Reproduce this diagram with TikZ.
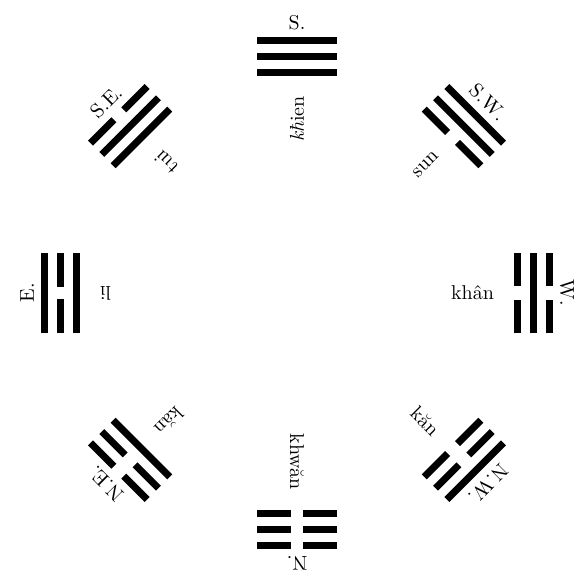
\documentclass[tikz,border=0pt]{standalone}
\begin{document}
\begin{tikzpicture}[x=0.5pt,y=0.5pt,
  yao/.style={line width=3.5pt},
  quarter/.style={transform shape},
  gua/.style={transform shape,rotate=90,anchor=east}]
\useasboundingbox (-297,-285) rectangle (281,293);

% S -- khien
\begin{scope}[shift={(90:236)},rotate=0]
\draw[yao] (-40,16) -- (40,16);
\draw[yao] (-40,0) -- (40,0);
\draw[yao] (-40,-16) -- (40,-16);
\node[quarter] at (0,34) (S) {S.};
\node[gua] at (0,-32) (khien) {\textit{kħ}ien};
\end{scope}

% S.E. -- tui
\begin{scope}[shift={(135:236)},rotate=45]
\draw[yao] (-40,16) -- (-7,16) (7,16) -- (40,16);
\draw[yao] (-40,0) -- (40,0);
\draw[yao] (-40,-16) -- (40,-16);
\node[quarter] at (0,34) (SE) {S.E.};
\node[gua] at (0,-32) (tui) {tui};
\end{scope}

% E. -- li
\begin{scope}[shift={(180:236)},rotate=90]
\draw[yao] (-40,16) -- (40,16);
\draw[yao] (-40,0) -- (-6,0) (6,0) -- (40,0);
\draw[yao] (-40,-16) -- (40,-16);
\node[quarter] at (0,34) (E) {E.};
\node[gua] at (0,-32) (li) {li};
\end{scope}

% N.E. -- kan
\begin{scope}[shift={(225:236)},rotate=135]
\draw[yao] (-40,16) -- (-7,16) (7,16) -- (40,16);
\draw[yao] (-40,0) -- (-7,0) (7,0) -- (40,0);
\draw[yao] (-40,-16) -- (40,-16);
\node[quarter] at (0,34) (NE) {N.E.};
\node[gua] at (0,-32) (kan1) {kăn};
\end{scope}

% N. -- khwan
\begin{scope}[shift={(270:236)},rotate=180]
\draw[yao] (-40,16) -- (-6,16) (6,16) -- (40,16);
\draw[yao] (-40,0) -- (-6,0) (6,0) -- (40,0);
\draw[yao] (-40,-16) -- (-6,-16) (6,-16) -- (40,-16);
\node[quarter] at (0,34) (N) {N.};
\node[gua] at (0,-32) (khwan) {khwăn};
\end{scope}

% N.W. -- kan
\begin{scope}[shift={(315:236)},rotate=-135]
\draw[yao] (-40,16) -- (40,16);
\draw[yao] (-40,0) -- (-7,0) (7,0) -- (40,0);
\draw[yao] (-40,-16) -- (-7,-16) (7,-16) -- (40,-16);
\node[quarter] at (0,34) (NW) {N.W.};
\node[gua] at (0,-32) (kan2) {kăn};
\end{scope}

% W. -- khan
\begin{scope}[shift={(0:236)},rotate=-90]
\draw[yao] (-40,16) -- (-7,16) (7,16) -- (40,16);
\draw[yao] (-40,0) -- (40,0);
\draw[yao] (-40,-16) -- (-7,-16) (7,-16) -- (40,-16);
\node[quarter] at (0,34) (W) {W.};
\node[gua] at (0,-32) (khan) {khân};
\end{scope}

% S.W. -- sun
\begin{scope}[shift={(45:236)},rotate=-45]
\draw[yao] (-40,16) -- (40,16);
\draw[yao] (-40,0) -- (40,0);
\draw[yao] (-40,-16) -- (-7,-16) (7,-16) -- (40,-16);
\node[quarter] at (0,34) (SW) {S.W.};
\node[gua] at (0,-32) (sun) {sun};
\end{scope}
\end{tikzpicture}
\end{document}
